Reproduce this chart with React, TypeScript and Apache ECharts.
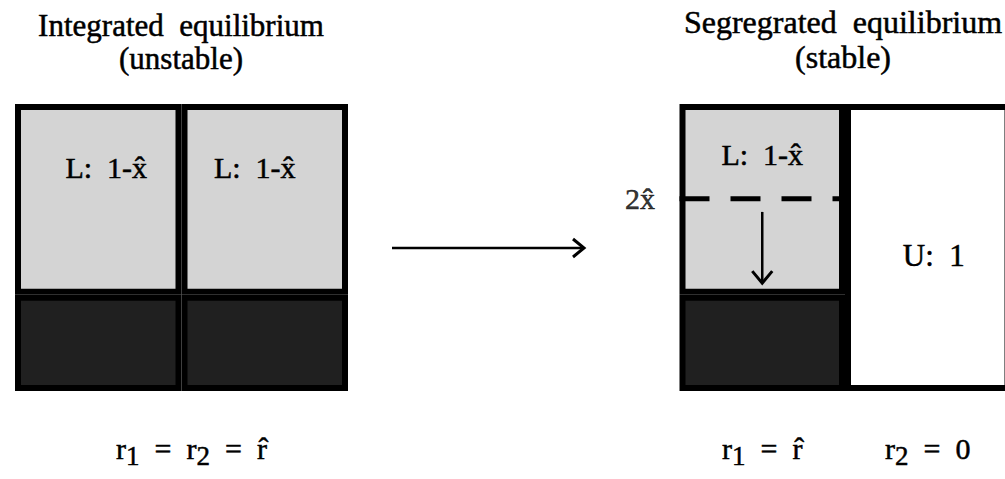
import React, { useEffect, useRef } from "react";
import * as echarts from "echarts";

// ---- data ----
const xHat = 0.335;
const leftCategories = ["region 1", "region 2"];
const leftDark = [xHat, xHat];
const leftLight = [1 - xHat, 1 - xHat];
const leftLabels = ["L:  1-x\u0302", "L:  1-x\u0302"];
const leftAxisName = "{n|r}{s|1}{n|  =  r}{s|2}{n|  =  r\u0302}";

const rightCategories = ["{n|r}{s|1}{n|  =  r\u0302}", "{n|r}{s|2}{n|  =  0}"];
const rightDark: (number | null)[] = [xHat, null];
const rightLight: (number | null)[] = [1 - xHat, null];
const rightEmpty: (number | null)[] = [null, 1];
const rightLightLabel = "L:  1-x\u0302";
const rightEmptyLabel = "U:  1";
const dashLevel = 2 * xHat;
const dashLabel = "2x\u0302";
const arrowX = 0.5;
const arrowFrom = 0.624;
const arrowTo = 0.376;

const titleLeft = "Integrated  equilibrium\n(unstable)";
const titleRight = "Segregrated  equilibrium\n(stable)";

const FONT = "'Liberation Serif', 'Times New Roman', serif";
const LIGHT = "#d4d4d4";
const DARK = "#202020";
const INK = { textBorderColor: "#000", textBorderWidth: 0.5 };

const richText = {
  n: { fontFamily: FONT, fontSize: 30, color: "#000", lineHeight: 40, ...INK },
  s: { fontFamily: FONT, fontSize: 27, color: "#000", lineHeight: 27, padding: [16, 0, 0, 0], ...INK },
};

export default function App() {
  const ref = useRef<HTMLDivElement>(null);
  useEffect(() => {
    document.body.style.margin = "0";
    if (!ref.current) return;
    const chart = echarts.init(ref.current, undefined, { renderer: "svg" });
    const barBase = {
      type: "bar",
      barWidth: "100%",
      barGap: "0%",
    };
    const border = { borderColor: "#000", borderWidth: 6 };
    const labelFont = { fontFamily: FONT, color: "#000", ...INK };
    const option: any = {
      animation: false,
      backgroundColor: "#fff",
      grid: [
        { left: 15, top: 104, width: 333, height: 287 },
        { left: 679.5, top: 104, width: 331, height: 287 },
      ],
      xAxis: [
        {
          type: "category",
          gridIndex: 0,
          data: leftCategories,
          axisLine: { show: false },
          axisTick: { show: false },
          axisLabel: { show: false },
          splitLine: { show: false },
          name: leftAxisName,
          nameLocation: "middle",
          nameGap: 37,
          nameTextStyle: { rich: richText, padding: [0, 0, 0, 20] },
        },
        {
          type: "category",
          gridIndex: 1,
          data: rightCategories,
          axisLine: { show: false },
          axisTick: { show: false },
          splitLine: { show: false },
          axisLabel: { margin: 37, rich: richText, formatter: (v: string) => v },
        },
        { type: "value", gridIndex: 1, min: 0, max: 2, show: false },
      ],
      yAxis: [
        { type: "value", gridIndex: 0, min: 0, max: 1, show: false },
        { type: "value", gridIndex: 1, min: 0, max: 1, show: false },
      ],
      series: [
        {
          ...barBase,
          name: "left dark",
          xAxisIndex: 0,
          yAxisIndex: 0,
          stack: "L",
          data: leftDark,
          itemStyle: { color: DARK, ...border },
        },
        {
          ...barBase,
          name: "left light",
          xAxisIndex: 0,
          yAxisIndex: 0,
          stack: "L",
          data: leftLight.map((v, i) => ({
            value: v,
            label: { offset: [i === 0 ? 8 : -10, 0], formatter: leftLabels[i] },
          })),
          itemStyle: { color: LIGHT, ...border },
          label: {
            show: true,
            position: ["50%", 63],
            align: "center",
            verticalAlign: "middle",
            fontSize: 30,
            ...labelFont,
          },
        },
        {
          ...barBase,
          name: "right dark",
          xAxisIndex: 1,
          yAxisIndex: 1,
          stack: "R",
          data: rightDark,
          itemStyle: { color: DARK, ...border },
        },
        {
          ...barBase,
          name: "right light",
          xAxisIndex: 1,
          yAxisIndex: 1,
          stack: "R",
          data: rightLight,
          itemStyle: { color: LIGHT, ...border },
          label: {
            show: true,
            position: ["50%", 50],
            align: "center",
            verticalAlign: "middle",
            fontSize: 30,
            ...labelFont,
            formatter: rightLightLabel,
          },
        },
        {
          ...barBase,
          name: "right empty",
          xAxisIndex: 1,
          yAxisIndex: 1,
          stack: "R",
          data: rightEmpty,
          itemStyle: { color: "#fff", ...border },
          label: {
            show: true,
            position: ["50%", 151],
            offset: [6, 0],
            align: "center",
            verticalAlign: "middle",
            fontSize: 31,
            ...labelFont,
            formatter: rightEmptyLabel,
          },
        },
        {
          type: "line",
          name: "threshold",
          xAxisIndex: 2,
          yAxisIndex: 1,
          data: [[0, dashLevel], [1, dashLevel]],
          symbol: "none",
          lineStyle: { color: "#000", width: 5, type: [30, 21] },
          z: 5,
        },
        {
          type: "scatter",
          name: "threshold label",
          xAxisIndex: 2,
          yAxisIndex: 1,
          data: [[0, dashLevel]],
          symbolSize: 1,
          itemStyle: { color: "rgba(0,0,0,0)" },
          label: {
            show: true,
            position: "left",
            distance: 24,
            fontSize: 30,
            ...labelFont,
            formatter: dashLabel,
          },
          z: 6,
        },
        {
          type: "custom",
          name: "shift",
          xAxisIndex: 2,
          yAxisIndex: 1,
          data: [[arrowX, arrowFrom, arrowTo]],
          z: 6,
          renderItem: (_p: any, api: any) => {
            const p0 = api.coord([api.value(0), api.value(1)]);
            const p1 = api.coord([api.value(0), api.value(2)]);
            return {
              type: "group",
              children: [
                {
                  type: "line",
                  shape: { x1: p0[0], y1: p0[1], x2: p1[0], y2: p1[1] },
                  style: { stroke: "#000", lineWidth: 2.5 },
                },
                {
                  type: "polyline",
                  shape: {
                    points: [
                      [p1[0] - 10, p1[1] - 12],
                      [p1[0], p1[1]],
                      [p1[0] + 10, p1[1] - 12],
                    ],
                  },
                  style: { stroke: "#000", lineWidth: 3, fill: "none" },
                },
              ],
            };
          },
        },
      ],
      graphic: [
        {
          type: "text",
          x: 181,
          y: 9,
          style: {
            text: titleLeft,
            font: `31px ${FONT}`,
            fill: "#000",
            stroke: "#000",
            lineWidth: 0.5,
            align: "center",
            verticalAlign: "top",
            lineHeight: 33,
          },
        },
        {
          type: "text",
          x: 843,
          y: 4,
          style: {
            text: titleRight,
            font: `32px ${FONT}`,
            fill: "#000",
            stroke: "#000",
            lineWidth: 0.5,
            align: "center",
            verticalAlign: "top",
            lineHeight: 35,
          },
        },
        {
          type: "group",
          children: [
            {
              type: "line",
              shape: { x1: 392, y1: 248, x2: 584, y2: 248 },
              style: { stroke: "#000", lineWidth: 2.5 },
            },
            {
              type: "polyline",
              shape: { points: [[573, 239], [584, 248], [573, 257]] },
              style: { stroke: "#000", lineWidth: 3, fill: "none" },
            },
          ],
        },
      ],
    };
    chart.setOption(option);
    return () => chart.dispose();
  }, []);
  return (
    <div style={{ width: 1005, height: 479, overflow: "hidden", position: "relative" }}>
      <div ref={ref} style={{ width: 1040, height: 479 }} />
    </div>
  );
}
